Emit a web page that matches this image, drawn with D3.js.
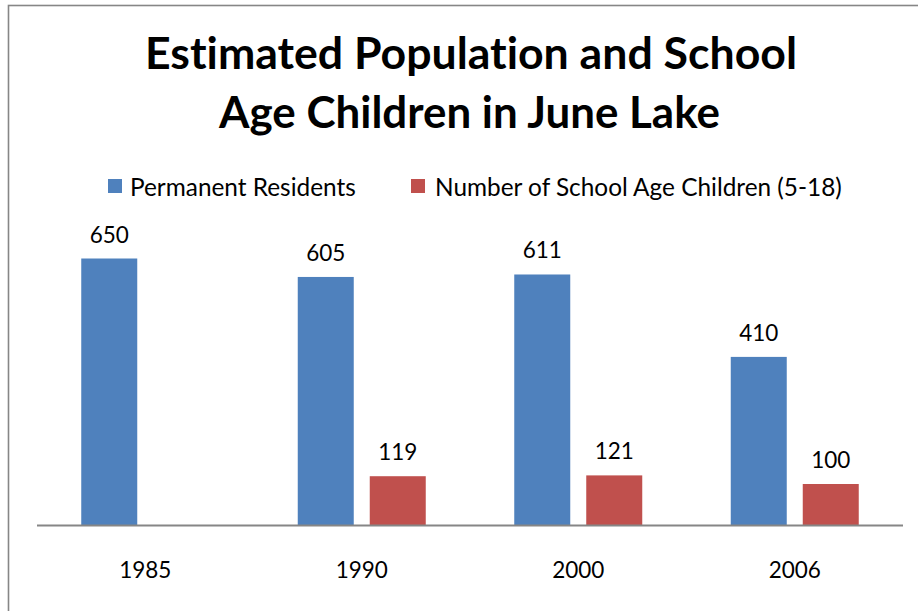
<!DOCTYPE html>
<html>
<head>
<meta charset="utf-8">
<script src="https://cdn.jsdelivr.net/npm/d3@7"></script>
<style>
  html, body { margin: 0; padding: 0; background: #fff; }
  svg { display: block; }
  text { font-family: Lato, "Open Sans", sans-serif; fill: #000; font-variant-ligatures: none; font-feature-settings: "liga" 0, "clig" 0; }
</style>
</head>
<body>
<svg id="chart" width="918" height="611"></svg>
<script>
const titleLines = ["Estimated Population and School", "Age Children in June Lake"];
const categories = ["1985", "1990", "2000", "2006"];
const seriesNames = ["Permanent Residents", "Number of School Age Children (5-18)"];
const permanentResidents = [650, 605, 611, 410];
const schoolAgeChildren = [null, 119, 121, 100];
const seriesColors = ["#4F81BD", "#C0504D"];

const W = 918, H = 611;
const svg = d3.select("#chart");

// outer chart border (cropped at right/bottom like reference)
svg.append("rect")
  .attr("x", 8.5).attr("y", 5.5)
  .attr("width", 940).attr("height", 640)
  .attr("fill", "none").attr("stroke", "#868686").attr("stroke-width", 1.6);

// helper: fit font size so text matches a target width
function fitText(sel, targetWidth) {
  const fs = parseFloat(sel.attr("font-size"));
  const w = sel.node().getComputedTextLength();
  if (w > 0) sel.attr("font-size", fs * targetWidth / w);
  return sel;
}

// Title
const titleCenters = [471, 469.5];
const titleWidths = [652, 501];
const titleBaselines = [69, 128];
titleLines.forEach((t, i) => {
  const el = svg.append("text")
    .attr("x", titleCenters[i]).attr("y", titleBaselines[i])
    .attr("text-anchor", "middle")
    .attr("font-weight", "bold")
    .attr("font-size", 38)
    .text(t);
  fitText(el, titleWidths[i]);
});

// Scales
const plotLeft = 37, plotRight = 903, baseline = 525;
const x0 = d3.scaleBand().domain(categories).range([plotLeft, plotRight]).paddingInner(0).paddingOuter(0);
const x1 = d3.scaleBand().domain(seriesNames).range([0, x0.bandwidth()])
  .paddingInner(16 / 72).paddingOuter(0.6146);
const y = d3.scaleLinear().domain([0, 700]).range([baseline, 238]);

const seriesValues = [permanentResidents, schoolAgeChildren];

// Bars
seriesNames.forEach((name, si) => {
  const g = svg.append("g");
  const data = categories.map((c, i) => ({ c, v: seriesValues[si][i] })).filter(d => d.v != null);
  g.selectAll("rect").data(data).enter().append("rect")
    .attr("x", d => x0(d.c) + x1(name))
    .attr("y", d => y(d.v))
    .attr("width", x1.bandwidth())
    .attr("height", d => baseline - y(d.v))
    .attr("fill", seriesColors[si]);
  g.selectAll("text").data(data).enter().append("text")
    .attr("x", d => x0(d.c) + x1(name) + x1.bandwidth() / 2)
    .attr("y", d => y(d.v) - 16)
    .attr("text-anchor", "middle")
    .attr("font-size", 22.5)
    .text(d => d.v);
});

// X axis
const xAxis = svg.append("g")
  .attr("transform", `translate(0,${baseline + 0.5})`)
  .call(d3.axisBottom(x0).tickSize(0).tickPadding(0));
xAxis.select(".domain").attr("stroke", "#868686").attr("stroke-width", 1.8)
  .attr("d", `M${plotLeft},0H${plotRight}`);
xAxis.selectAll(".tick text")
  .attr("font-size", 22.5)
  .attr("font-family", "Lato, sans-serif")
  .attr("fill", "#000")
  .attr("dy", null)
  .attr("y", 52);

// Legend
const legendItems = [
  { sx: 108, tx: 130, tw: 226 },
  { sx: 411, tx: 435, tw: 407 }
];
seriesNames.forEach((name, i) => {
  const li = legendItems[i];
  svg.append("rect")
    .attr("x", li.sx).attr("y", 179)
    .attr("width", 14).attr("height", 14)
    .attr("fill", seriesColors[i]);
  const t = svg.append("text")
    .attr("x", li.tx).attr("y", 196)
    .attr("font-size", 22)
    .text(name);
  fitText(t, li.tw);
});
</script>
</body>
</html>
